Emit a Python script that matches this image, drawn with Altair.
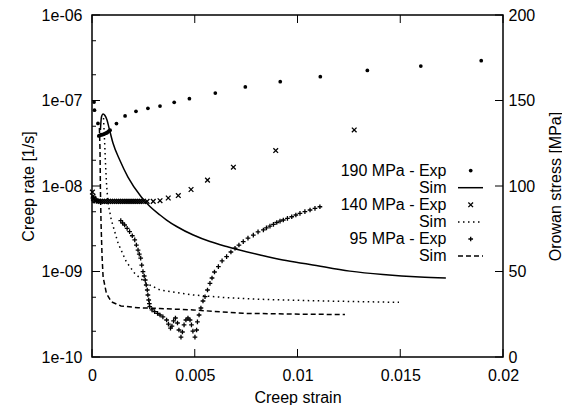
import altair as alt
import pandas as pd

# ---------------- data ----------------
x_ticks = [0, 0.005, 0.01, 0.015, 0.02]
y_ticks = [1e-10, 1e-9, 1e-8, 1e-7, 1e-6]
y_minor = [2e-10, 5e-10, 2e-9, 5e-9, 2e-8, 5e-8, 2e-7, 5e-7]
stress_ticks = [0, 50, 100, 150, 200]
legend_labels = ["190 MPa - Exp", "Sim", "140 MPa - Exp", "Sim", "95 MPa - Exp", "Sim"]

strain_190_exp = [0.0001, 0.00012, 0.00029, 0.00033, 0.00038, 0.00043, 0.00048, 0.00053, 0.00058,
                  0.00063, 0.00068, 0.00073, 0.00078, 0.00083, 0.00088, 0.00119, 0.00161, 0.00214,
                  0.00272, 0.00331, 0.0040, 0.00474, 0.0060, 0.00746, 0.00916, 0.01111, 0.0134,
                  0.0160, 0.01894]
rate_190_exp = [9.6e-8, 7.7e-8, 5.4e-8, 3.85e-8, 3.9e-8, 3.95e-8, 4.0e-8, 4.0e-8, 4.05e-8,
                4.1e-8, 4.15e-8, 4.2e-8, 4.3e-8, 4.4e-8, 4.5e-8, 5.38e-8, 6.59e-8, 7.48e-8,
                8.1e-8, 8.62e-8, 9.53e-8, 1.05e-7, 1.22e-7, 1.44e-7, 1.66e-7, 1.90e-7, 2.25e-7,
                2.53e-7, 2.92e-7]

strain_190_sim = [0.00041, 0.00046, 0.00054, 0.00063, 0.00073, 0.00083, 0.00102, 0.00135, 0.00175,
                  0.0024, 0.00282, 0.00331, 0.00363, 0.00412, 0.00493, 0.00574, 0.00655, 0.00818,
                  0.00929, 0.01061, 0.01255, 0.01416, 0.01596, 0.01722]
rate_190_sim = [4.52e-8, 6.41e-8, 6.95e-8, 6.68e-8, 5.91e-8, 4.77e-8, 3.18e-8, 2.01e-8, 1.27e-8,
                7.44e-9, 5.76e-9, 4.58e-9, 4.00e-9, 3.36e-9, 2.67e-9, 2.24e-9, 1.96e-9, 1.56e-9,
                1.36e-9, 1.21e-9, 1.01e-9, 9.2e-10, 8.6e-10, 8.4e-10]

strain_140_exp = [0.00002, 0.00005, 0.00007, 0.0001, 0.00012, 0.00015,
                  0.0002, 0.0003, 0.0004, 0.0005, 0.0006, 0.0007, 0.0008, 0.0009, 0.0010,
                  0.0011, 0.0012, 0.0013, 0.0014, 0.0015, 0.0016, 0.0017, 0.0018, 0.0019,
                  0.0020, 0.0021, 0.0022, 0.0023, 0.0024, 0.0025, 0.00268,
                  0.00298, 0.00331, 0.00371, 0.0042, 0.00482, 0.00562, 0.00688, 0.00894, 0.01276]
rate_140_exp = [8.5e-9, 7.6e-9, 7.2e-9, 7.05e-9, 6.86e-9, 6.75e-9,
                6.7e-9, 6.65e-9, 6.6e-9, 6.6e-9, 6.6e-9, 6.6e-9, 6.6e-9, 6.6e-9, 6.6e-9,
                6.6e-9, 6.6e-9, 6.6e-9, 6.6e-9, 6.6e-9, 6.6e-9, 6.6e-9, 6.6e-9, 6.6e-9,
                6.6e-9, 6.6e-9, 6.6e-9, 6.6e-9, 6.6e-9, 6.6e-9, 6.6e-9,
                6.6e-9, 6.73e-9, 7.24e-9, 7.74e-9, 9.1e-9, 1.17e-8, 1.66e-8, 2.60e-8, 4.52e-8]

strain_140_sim = [0.00056, 0.00061, 0.00066, 0.00071, 0.00078, 0.00094, 0.00127, 0.00167, 0.00208,
                  0.00264, 0.00331, 0.00493, 0.00655, 0.00818, 0.01061, 0.01255, 0.01494]
rate_140_sim = [6.24e-8, 3.45e-8, 1.76e-8, 1.03e-8, 6.33e-9, 4.0e-9, 2.14e-9, 1.30e-9, 9.5e-10,
                7.28e-10, 6.08e-10, 5.31e-10, 4.94e-10, 4.73e-10, 4.56e-10, 4.46e-10, 4.36e-10]

strain_95_exp = [0.00140, 0.00149, 0.00159, 0.00171, 0.00183, 0.00196, 0.00208, 0.00216, 0.00224,
                 0.00230, 0.00237, 0.00242, 0.00248, 0.00254, 0.00259, 0.00264, 0.00269, 0.00272,
                 0.00276, 0.00279, 0.00281, 0.00292, 0.00305, 0.00319, 0.00331, 0.00345, 0.00363,
                 0.00372, 0.00382, 0.00389, 0.00397, 0.00406, 0.00416, 0.00423, 0.00433, 0.00440,
                 0.00448, 0.00457, 0.00467, 0.00477, 0.00484, 0.00491, 0.00501, 0.00509, 0.00513,
                 0.00521, 0.00530, 0.00540, 0.00550, 0.00562, 0.00574, 0.00584, 0.00596, 0.00615,
                 0.00633, 0.00655, 0.00676, 0.00696, 0.00715, 0.00736, 0.00759, 0.00785, 0.00808,
                 0.00834, 0.00849, 0.00866, 0.00883, 0.00899, 0.00915, 0.00931, 0.00951, 0.00972,
                 0.00992, 0.01012, 0.01036, 0.01061, 0.01085, 0.01109]
rate_95_exp = [3.93e-9, 3.69e-9, 3.50e-9, 3.20e-9, 2.92e-9, 2.62e-9, 2.34e-9, 2.04e-9, 1.78e-9,
               1.60e-9, 1.43e-9, 1.19e-9, 9.95e-10, 8.86e-10, 7.95e-10, 6.95e-10, 6.08e-10, 5.31e-10,
               4.64e-10, 4.22e-10, 3.88e-10, 3.55e-10, 3.39e-10, 3.23e-10, 3.10e-10, 2.94e-10, 2.71e-10,
               2.43e-10, 2.18e-10, 2.30e-10, 2.64e-10, 2.86e-10, 2.50e-10, 2.07e-10, 1.71e-10, 1.96e-10,
               2.37e-10, 2.71e-10, 2.86e-10, 2.71e-10, 2.37e-10, 2.01e-10, 1.71e-10, 2.07e-10, 2.57e-10,
               3.10e-10, 3.74e-10, 4.52e-10, 5.07e-10, 6.08e-10, 7.28e-10, 8.39e-10, 9.87e-10, 1.14e-9,
               1.33e-9, 1.49e-9, 1.69e-9, 1.87e-9, 2.04e-9, 2.23e-9, 2.46e-9, 2.67e-9, 2.90e-9,
               3.06e-9, 3.23e-9, 3.40e-9, 3.56e-9, 3.74e-9, 3.88e-9, 4.00e-9, 4.19e-9, 4.37e-9,
               4.58e-9, 4.79e-9, 5.02e-9, 5.24e-9, 5.48e-9, 5.72e-9]

strain_95_sim = [0.00036, 0.00039, 0.00041, 0.00044, 0.00049, 0.00054, 0.0007, 0.00094, 0.00141,
                 0.00224, 0.00331, 0.00493, 0.00735, 0.01061, 0.01231]
rate_95_sim = [4.77e-8, 2.64e-8, 8.98e-9, 3.69e-9, 1.50e-9, 8.63e-10, 5.56e-10, 4.43e-10, 3.95e-10,
               3.77e-10, 3.69e-10, 3.55e-10, 3.24e-10, 3.16e-10, 3.14e-10]

# ---------------- layout / style ----------------
W, H = 411, 342
FONT = "Liberation Sans"
FS = 16
MAJ, MIN = 8, 4


def frame(s, r):
    return pd.DataFrame({"strain": s, "rate": r, "i": list(range(len(s)))})


xscale = alt.Scale(domain=[0, 0.02], nice=False, zero=False)
yscale = alt.Scale(type="log", domain=[1e-10, 1e-6], nice=False)

X = alt.X("strain:Q", scale=xscale,
          axis=alt.Axis(values=x_ticks, format="~g", title="Creep strain",
                        labelFlush=False, labelOverlap=False, labelPadding=10,
                        titleX=W / 2, titleY=40, titleAlign="center", titleBaseline="middle"))
Y = alt.Y("rate:Q", scale=yscale,
          axis=alt.Axis(values=y_ticks,
                        labelExpr="length(format(datum.value,'.0e')) == 4 ? replace(format(datum.value,'.0e'),'e-','e-0') : format(datum.value,'.0e')",
                        title="Creep rate [1/s]", labelPadding=10, labelOverlap=False,
                        titleX=-64, titleY=H / 2, titleAngle=270,
                        titleAlign="center", titleBaseline="middle"))

point_common = dict(color="black", opacity=1)

exp190 = alt.Chart(frame(strain_190_exp, rate_190_exp)).mark_point(
    shape="circle", filled=True, size=14, **point_common).encode(x=X, y=Y)
exp140 = alt.Chart(frame(strain_140_exp, rate_140_exp)).mark_point(
    shape="M-1,-1L1,1M-1,1L1,-1", filled=False, size=22, strokeWidth=1.3, **point_common).encode(x=X, y=Y)
exp95 = alt.Chart(frame(strain_95_exp, rate_95_exp)).mark_point(
    shape="M-1,0L1,0M0,-1L0,1", filled=False, size=22, strokeWidth=1.3, **point_common).encode(x=X, y=Y)

sim190 = alt.Chart(frame(strain_190_sim, rate_190_sim)).mark_line(
    color="black", strokeWidth=1.5, interpolate="monotone").encode(x=X, y=Y, order="i:Q")
sim140 = alt.Chart(frame(strain_140_sim, rate_140_sim)).mark_line(
    color="black", strokeWidth=1.5, strokeDash=[1.5, 3.5]).encode(x=X, y=Y, order="i:Q")
sim95 = alt.Chart(frame(strain_95_sim, rate_95_sim)).mark_line(
    color="black", strokeWidth=1.5, strokeDash=[5, 3]).encode(x=X, y=Y, order="i:Q")

xt = pd.DataFrame({"strain": x_ticks})
bottom_ticks = alt.Chart(xt).mark_rule(color="black", strokeWidth=1).encode(
    x=X, y=alt.value(H), y2=alt.value(H - MAJ))
top_ticks = alt.Chart(xt).mark_rule(color="black", strokeWidth=1).encode(
    x=X, y=alt.value(0), y2=alt.value(MAJ))
left_major = alt.Chart(pd.DataFrame({"rate": y_ticks})).mark_rule(color="black", strokeWidth=1).encode(
    y=Y, x=alt.value(0), x2=alt.value(MAJ))
left_minor = alt.Chart(pd.DataFrame({"rate": y_minor})).mark_rule(color="black", strokeWidth=1).encode(
    y=Y, x=alt.value(0), x2=alt.value(MIN))

# legend (label right, sample left as in gnuplot)
one = pd.DataFrame({"k": [0]})
leg_top, leg_step = 155.6, 17.1
text_x, sym_x, line_x0, line_x1 = 354.5, 378.7, 366, 391
legend_layers = []
for i, lab in enumerate(legend_labels):
    yy = leg_top + i * leg_step
    legend_layers.append(alt.Chart(one).mark_text(
        text=lab, align="right", baseline="middle", font=FONT, fontSize=FS, color="black").encode(
        x=alt.value(text_x), y=alt.value(yy)))
legend_layers.append(alt.Chart(one).mark_point(shape="circle", filled=True, size=14, **point_common).encode(
    x=alt.value(sym_x), y=alt.value(leg_top)))
legend_layers.append(alt.Chart(one).mark_rule(color="black", strokeWidth=1.5).encode(
    x=alt.value(line_x0), x2=alt.value(line_x1), y=alt.value(leg_top + leg_step)))
legend_layers.append(alt.Chart(one).mark_point(shape="M-1,-1L1,1M-1,1L1,-1", filled=False, size=22,
                                               strokeWidth=1.3, **point_common).encode(
    x=alt.value(sym_x), y=alt.value(leg_top + 2 * leg_step)))
legend_layers.append(alt.Chart(one).mark_rule(color="black", strokeWidth=1.5, strokeDash=[1.5, 3.5]).encode(
    x=alt.value(line_x0), x2=alt.value(line_x1), y=alt.value(leg_top + 3 * leg_step)))
legend_layers.append(alt.Chart(one).mark_point(shape="M-1,0L1,0M0,-1L0,1", filled=False, size=22,
                                               strokeWidth=1.3, **point_common).encode(
    x=alt.value(sym_x), y=alt.value(leg_top + 4 * leg_step)))
legend_layers.append(alt.Chart(one).mark_rule(color="black", strokeWidth=1.5, strokeDash=[5, 3]).encode(
    x=alt.value(line_x0), x2=alt.value(line_x1), y=alt.value(leg_top + 5 * leg_step)))

main = alt.layer(sim190, sim140, sim95, exp190, exp140, exp95,
                 bottom_ticks, top_ticks, left_major, left_minor, *legend_layers)

right = alt.Chart(pd.DataFrame({"stress": stress_ticks})).mark_rule(color="black", strokeWidth=1).encode(
    y=alt.Y("stress:Q", scale=alt.Scale(domain=[0, 200], nice=False, zero=False),
            axis=alt.Axis(orient="right", values=stress_ticks, title="Orowan stress [MPa]",
                          labelPadding=5, labelOverlap=False,
                          titleX=52, titleY=H / 2, titleAngle=270,
                          titleAlign="center", titleBaseline="middle")),
    x=alt.value(W), x2=alt.value(W - MAJ))

chart = alt.layer(main, right).resolve_scale(y="independent").properties(
    width=W, height=H,
    autosize=alt.AutoSizeParams(type="none"),
    padding={"left": 84, "top": 7, "right": 59, "bottom": 48},
    background="white",
).configure_view(stroke="black", strokeWidth=1.5).configure_axis(
    domain=False, ticks=False, tickSize=0, grid=False,
    labelFont=FONT, labelFontSize=FS, labelColor="black",
    titleFont=FONT, titleFontSize=FS, titleFontWeight="normal", titleColor="black",
)

chart.save("out.html", embed_options={"renderer": "svg", "actions": False})
